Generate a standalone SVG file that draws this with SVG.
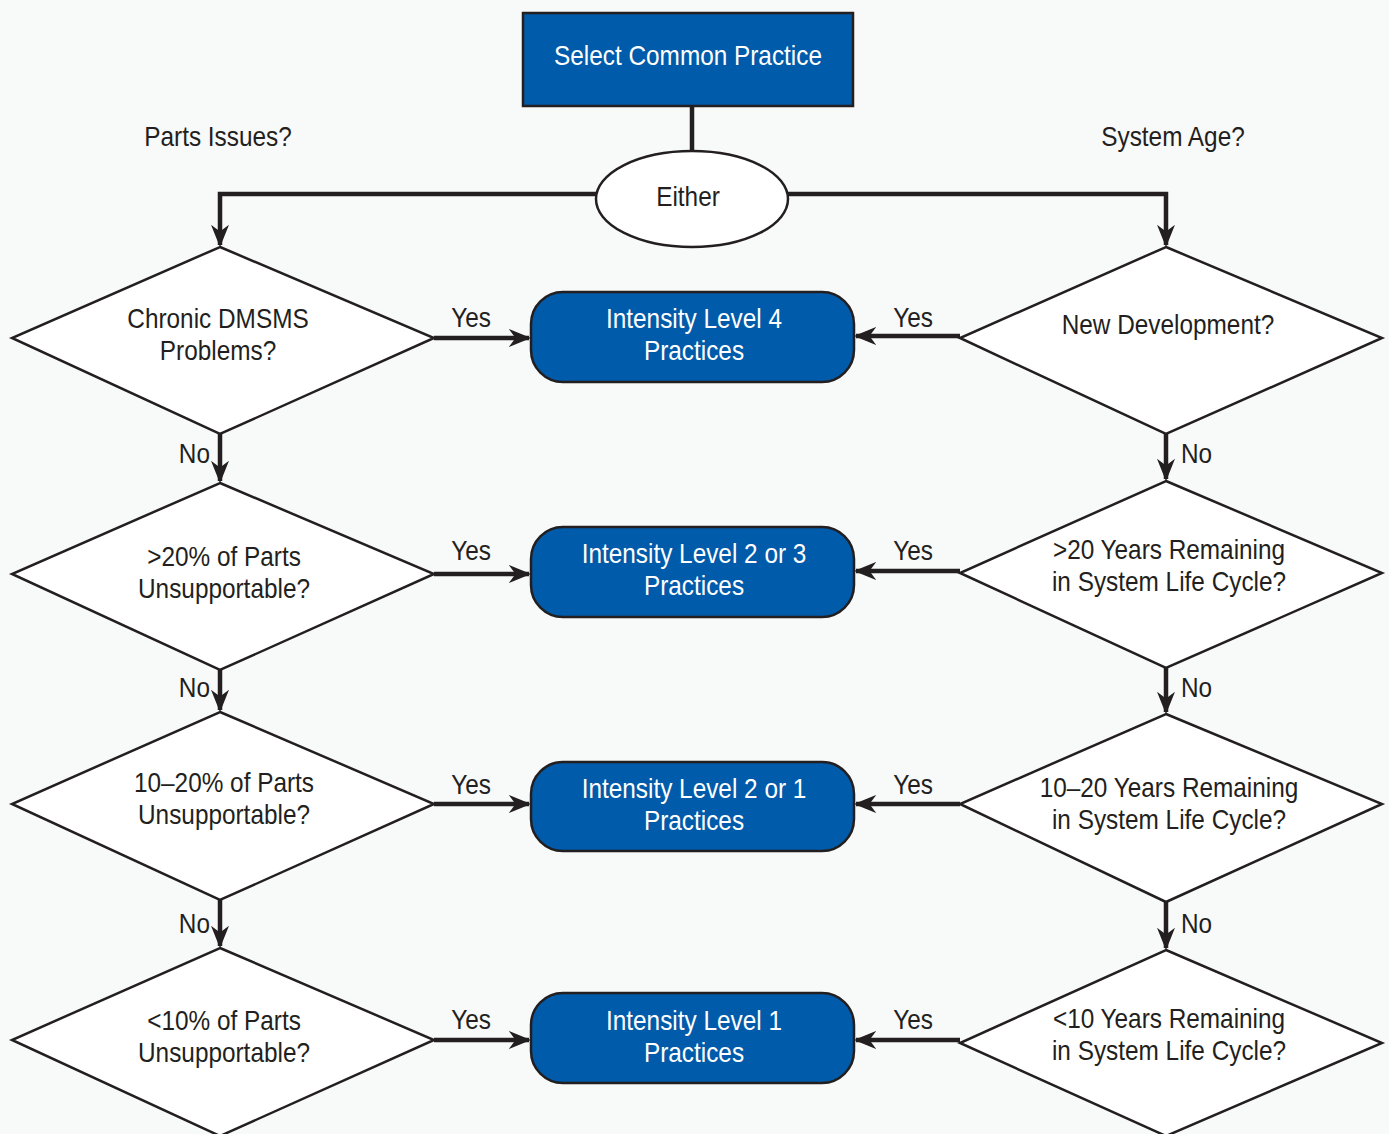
<svg xmlns="http://www.w3.org/2000/svg" width="1389" height="1134" viewBox="0 0 1389 1134">
<defs>
<marker id="ah" viewBox="0 0 10 10" refX="9" refY="5" markerWidth="5" markerHeight="5" markerUnits="strokeWidth" orient="auto">
<path d="M0,1 L10,5 L0,9 L3,5 z" fill="#231f20"/>
</marker>
<style>
text{font-family:"Liberation Sans",Arial,sans-serif;font-size:28px;text-anchor:middle;fill:#231f20}
.w{fill:#ffffff}
.e{text-anchor:end}
.s{text-anchor:start}
.blue{fill:#005baa;stroke:#231f20;stroke-width:2.5}
.dia{fill:#ffffff;stroke:#231f20;stroke-width:2.5}
.c{fill:none;stroke:#231f20;stroke-width:4.5}
.a{fill:none;stroke:#231f20;stroke-width:4.5;marker-end:url(#ah)}
</style>
</defs>
<rect width="1389" height="1134" fill="#f8f9f9"/>
<g id="connectors">
<line class="c" x1="692" y1="106" x2="692" y2="152"/>
<path class="a" d="M596,194 H220 V245"/>
<path class="a" d="M788,194 H1166 V245"/>
<line class="a" x1="434" y1="338" x2="529" y2="338"/>
<line class="a" x1="960" y1="336" x2="856" y2="336"/>
<line class="a" x1="434" y1="574" x2="529" y2="574"/>
<line class="a" x1="960" y1="571" x2="856" y2="571"/>
<line class="a" x1="434" y1="804" x2="529" y2="804"/>
<line class="a" x1="960" y1="804" x2="856" y2="804"/>
<line class="a" x1="434" y1="1040" x2="529" y2="1040"/>
<line class="a" x1="960" y1="1040" x2="856" y2="1040"/>
<line class="a" x1="220" y1="434" x2="220" y2="481"/>
<line class="a" x1="220" y1="670" x2="220" y2="710"/>
<line class="a" x1="220" y1="900" x2="220" y2="946"/>
<line class="a" x1="1166" y1="434" x2="1166" y2="479"/>
<line class="a" x1="1166" y1="668" x2="1166" y2="712"/>
<line class="a" x1="1166" y1="902" x2="1166" y2="948"/>
<text transform="matrix(0.87 0 0 1 471 327)">Yes</text><text transform="matrix(0.87 0 0 1 913 327)">Yes</text>
<text transform="matrix(0.87 0 0 1 471 560)">Yes</text><text transform="matrix(0.87 0 0 1 913 560)">Yes</text>
<text transform="matrix(0.87 0 0 1 471 794)">Yes</text><text transform="matrix(0.87 0 0 1 913 794)">Yes</text>
<text transform="matrix(0.87 0 0 1 471 1029)">Yes</text><text transform="matrix(0.87 0 0 1 913 1029)">Yes</text>
<text class="e" transform="matrix(0.87 0 0 1 210 463)">No</text><text class="s" transform="matrix(0.87 0 0 1 1181 463)">No</text>
<text class="e" transform="matrix(0.87 0 0 1 210 697)">No</text><text class="s" transform="matrix(0.87 0 0 1 1181 697)">No</text>
<text class="e" transform="matrix(0.87 0 0 1 210 933)">No</text><text class="s" transform="matrix(0.87 0 0 1 1181 933)">No</text>
</g>
<text transform="matrix(0.87 0 0 1 218 146)">Parts Issues?</text>
<text transform="matrix(0.87 0 0 1 1173 146)">System Age?</text>
<g id="start"><rect class="blue" x="523" y="13" width="330" height="93"/><text class="w" transform="matrix(0.87 0 0 1 688 65)">Select Common Practice</text></g>
<g id="either"><ellipse class="dia" cx="692" cy="199" rx="96" ry="48"/><text transform="matrix(0.87 0 0 1 688 206)">Either</text></g>
<g id="q-chronic"><polygon class="dia" points="220,247 434,338 220,434 12,338"/><text transform="matrix(0.87 0 0 1 218 328)">Chronic DMSMS</text><text transform="matrix(0.87 0 0 1 218 360)">Problems?</text></g>
<g id="q-gt20"><polygon class="dia" points="220,483 434,574 220,670 12,574"/><text transform="matrix(0.87 0 0 1 224 566)">&gt;20% of Parts</text><text transform="matrix(0.87 0 0 1 224 598)">Unsupportable?</text></g>
<g id="q-10-20"><polygon class="dia" points="220,712 434,804 220,900 12,804"/><text transform="matrix(0.87 0 0 1 224 792)">10–20% of Parts</text><text transform="matrix(0.87 0 0 1 224 824)">Unsupportable?</text></g>
<g id="q-lt10"><polygon class="dia" points="220,948 434,1040 220,1136 12,1040"/><text transform="matrix(0.87 0 0 1 224 1030)">&lt;10% of Parts</text><text transform="matrix(0.87 0 0 1 224 1062)">Unsupportable?</text></g>
<g id="q-newdev"><polygon class="dia" points="1166,247 1382,338 1166,434 960,338"/><text transform="matrix(0.87 0 0 1 1168 334)">New Development?</text></g>
<g id="q-gt20y"><polygon class="dia" points="1166,481 1382,573 1166,668 960,573"/><text transform="matrix(0.87 0 0 1 1169 559)">&gt;20 Years Remaining</text><text transform="matrix(0.87 0 0 1 1169 591)">in System Life Cycle?</text></g>
<g id="q-10-20y"><polygon class="dia" points="1166,714 1382,804 1166,902 960,804"/><text transform="matrix(0.87 0 0 1 1169 797)">10–20 Years Remaining</text><text transform="matrix(0.87 0 0 1 1169 829)">in System Life Cycle?</text></g>
<g id="q-lt10y"><polygon class="dia" points="1166,950 1382,1043 1166,1136 960,1043"/><text transform="matrix(0.87 0 0 1 1169 1028)">&lt;10 Years Remaining</text><text transform="matrix(0.87 0 0 1 1169 1060)">in System Life Cycle?</text></g>
<g id="lvl4"><rect class="blue" x="531" y="292" width="323" height="90" rx="32"/><text class="w" transform="matrix(0.87 0 0 1 694 328)">Intensity Level 4</text><text class="w" transform="matrix(0.87 0 0 1 694 360)">Practices</text></g>
<g id="lvl23"><rect class="blue" x="531" y="527" width="323" height="90" rx="32"/><text class="w" transform="matrix(0.87 0 0 1 694 563)">Intensity Level 2 or 3</text><text class="w" transform="matrix(0.87 0 0 1 694 595)">Practices</text></g>
<g id="lvl21"><rect class="blue" x="531" y="762" width="323" height="89" rx="32"/><text class="w" transform="matrix(0.87 0 0 1 694 798)">Intensity Level 2 or 1</text><text class="w" transform="matrix(0.87 0 0 1 694 830)">Practices</text></g>
<g id="lvl1"><rect class="blue" x="531" y="993" width="323" height="90" rx="32"/><text class="w" transform="matrix(0.87 0 0 1 694 1030)">Intensity Level 1</text><text class="w" transform="matrix(0.87 0 0 1 694 1062)">Practices</text></g>
</svg>
